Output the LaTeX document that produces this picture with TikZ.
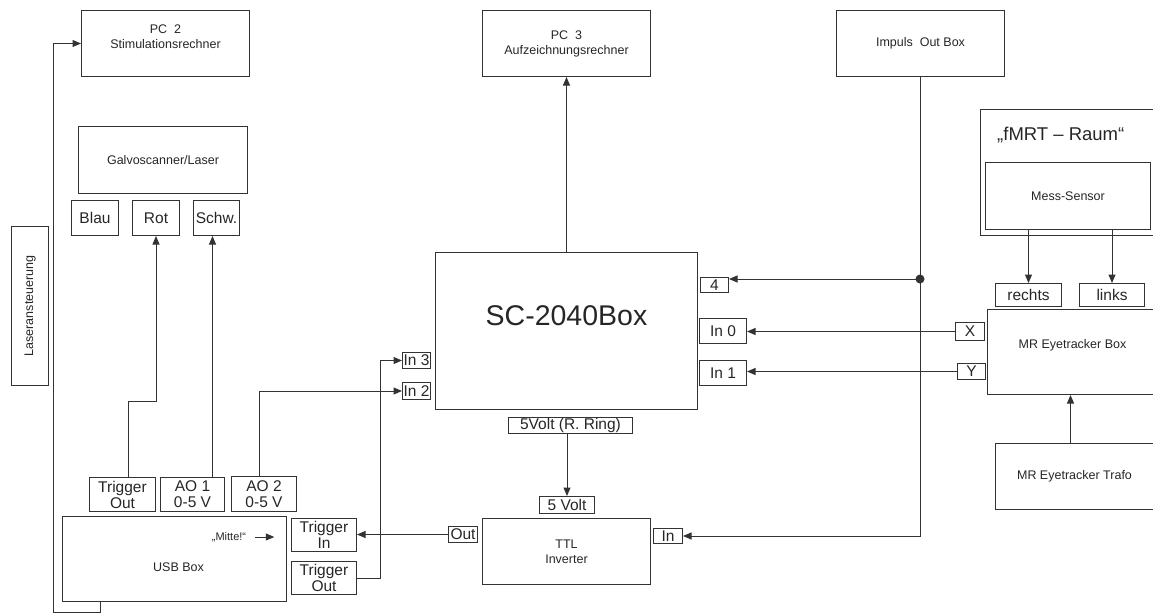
\documentclass[tikz,border=0pt]{standalone}
\usepackage{fontspec}
\setmainfont{Liberation Sans}
\usepackage{tikz}
\usetikzlibrary{arrows.meta,positioning,calc}
\definecolor{Ink}{HTML}{262626}
\definecolor{Wire}{HTML}{333333}
\newcommand{\boxfont}{\fontsize{12.5}{15}\selectfont}
\newcommand{\portfont}{\fontsize{15.5}{16}\selectfont}

\begin{document}
\begin{tikzpicture}[x=1pt,y=-1pt,
  blk/.style={draw=Wire,line width=1pt,anchor=north west,inner sep=0pt,
    align=center,text=Ink,font=\boxfont},
  port/.style={blk,font=\portfont},
  txt/.style={text=Ink,font=\boxfont,align=center,inner sep=0pt},
  wire/.style={draw=Wire,line width=1pt},
  sig/.style={wire,-{Triangle[length=8.5pt,width=7pt]}}
]
  \useasboundingbox (0,0) rectangle (1153,614);

  \node[blk,minimum width=168pt,minimum height=66pt] (pctwo) at (81,10) {};
  \node[txt] (pctwotxt) at ($(pctwo.center)+(0,-7)$)
    {PC\ \ 2\\Stimulationsrechner};
  \node[blk,minimum width=168pt,minimum height=66pt] (pcthree) at (482,10)
    {PC\ \ 3\\Aufzeichnungsrechner};
  \node[blk,minimum width=168pt,minimum height=66pt] (impuls) at (836,10)
    {Impuls\ \ Out Box};

  \node[blk,minimum width=169pt,minimum height=67pt] (galvo) at (78,126)
    {Galvoscanner/Laser};
  \node[port,minimum width=47pt,minimum height=35pt] (blau) at (71,200) {Blau};
  \node[port,minimum width=47pt,minimum height=35pt] (rot) at (132,200) {Rot};
  \node[port,minimum width=46pt,minimum height=35pt] (schw) at (193,200) {Schw.};
  \node[blk,minimum width=37pt,minimum height=159pt] (laser) at (11,226) {};
  \node[txt,rotate=90] (lasertxt) at (laser.center) {Laseransteuerung};

  \node[blk,minimum width=262pt,minimum height=157pt] (sc) at (435,252) {};
  \node[txt,font=\fontsize{28.5}{30}\selectfont] (sctxt)
    at ($(sc.center)+(0,-15)$) {SC-2040Box};
  \node[port,minimum width=28pt,minimum height=15pt] (four) at (700,277) {4};
  \node[port,minimum width=47pt,minimum height=25pt] (inzero) at (699,318) {In 0};
  \node[port,minimum width=47pt,minimum height=25pt] (inone) at (699,360) {In 1};
  \node[port,minimum width=28pt,minimum height=16pt] (inthree) at (402,352) {In 3};
  \node[port,minimum width=28pt,minimum height=17pt] (intwo) at (402,382) {In 2};
  \node[port,minimum width=124pt,minimum height=16pt] (fivering) at (508,417)
    {5Volt (R. Ring)};

  \node[port,minimum width=55pt,minimum height=17pt] (fivevolt) at (539,496) {5 Volt};
  \node[blk,minimum width=168pt,minimum height=66pt] (ttl) at (482,518)
    {TTL\\Inverter};
  \node[port,minimum width=29pt,minimum height=16pt] (out) at (448,526) {Out};
  \node[port,minimum width=29pt,minimum height=15pt] (inttl) at (653,528) {In};

  \node[blk,minimum width=174pt,minimum height=126pt] (fmrt) at (980,109) {};
  \node[txt,anchor=west,font=\fontsize{18.5}{20}\selectfont] (fmrttxt)
    at (997,135) {„fMRT – Raum“};
  \node[blk,minimum width=165pt,minimum height=67pt] (mess) at (985,162)
    {Mess-Sensor};
  \node[port,minimum width=66pt,minimum height=23pt] (rechts) at (995,283) {rechts};
  \node[port,minimum width=65pt,minimum height=23pt] (links) at (1079,283) {links};
  \node[blk,minimum width=166pt,minimum height=85pt] (mrbox) at (987,309) {};
  \node[txt] (mrtxt) at ($(mrbox.center)+(2,-7)$) {MR Eyetracker Box};
  \node[port,minimum width=29pt,minimum height=18pt] (xport) at (955,322) {X};
  \node[port,minimum width=28pt,minimum height=16pt] (yport) at (957,363) {Y};
  \node[blk,minimum width=158pt,minimum height=66pt] (trafo) at (995,443)
    {MR Eyetracker Trafo};

  \node[port,minimum width=66pt,minimum height=34pt] (trigout) at (89,477)
    {Trigger\\Out};
  \node[port,minimum width=64pt,minimum height=34pt] (aoone) at (160,477)
    {AO 1\\0-5 V};
  \node[port,minimum width=65pt,minimum height=35pt] (aotwo) at (231,476)
    {AO 2\\0-5 V};
  \node[blk,minimum width=224pt,minimum height=85pt] (usb) at (62,516) {};
  \node[txt] (usbtxt) at ($(usb.center)+(4,8)$) {USB Box};
  \node[txt,font=\fontsize{11}{13}\selectfont] (mitte) at (229,537) {„Mitte!“};
  \node[port,minimum width=65pt,minimum height=33pt] (trigin) at (291,518)
    {Trigger\\In};
  \node[port,minimum width=65pt,minimum height=33pt] (trigoutr) at (291,561)
    {Trigger\\Out};

  \coordinate (tap) at (920,279);

  \draw[sig] (sc) -- (pcthree);
  \draw[sig] (impuls) |- (inttl);
  \draw[sig] (tap) -- (tap -| four.east);
  \fill[Wire] (tap) circle (4.5pt);
  \draw[sig] (xport) -- (xport -| inzero.east);
  \draw[sig] (yport) -- (yport -| inone.east);
  \draw[sig] (rechts.north |- mess.south) -- (rechts);
  \draw[sig] (links.north |- mess.south) -- (links);
  \draw[sig] (mrbox.south |- trafo.north) -- (mrbox);
  \draw[sig] (fivevolt.north |- fivering.south) -- (fivevolt);
  \draw[sig] (out) -- (out -| trigin.east);
  \draw[sig] (trigoutr.east) -- ++(23,0) |- (inthree);
  \draw[sig] ([xshift=-5pt]aotwo.north) |- (intwo);
  \draw[sig] ([xshift=6pt]trigout.north) -- ++(0,-76) -| (rot);
  \draw[sig] ([xshift=20pt]aoone.north) -- ([xshift=20pt]aoone.north |- schw.south);
  \draw[sig] ([xshift=38pt]usb.south west) |- ++(-47,10) |- (pctwo);
  \draw[sig] ([xshift=9pt]mitte.east) -- ++(19,0);
\end{tikzpicture}
\end{document}
